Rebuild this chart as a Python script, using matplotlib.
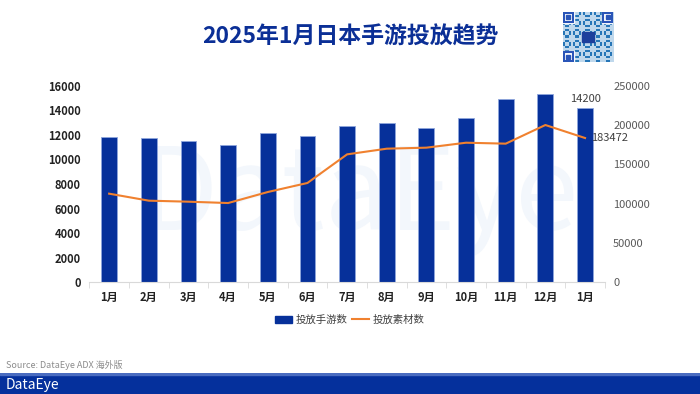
import matplotlib.pyplot as plt
import matplotlib.patches as mpatches
from matplotlib.lines import Line2D
import numpy as np

plt.rcParams['font.family'] = ['Noto Sans CJK SC', 'DejaVu Sans']

# data
months = ["1月", "2月", "3月", "4月", "5月", "6月", "7月", "8月", "9月", "10月", "11月", "12月", "1月"]
games = [11850, 11750, 11480, 11200, 12120, 11880, 12700, 12960, 12590, 13350, 14900, 15300, 14200]
creatives = [112700, 103800, 102500, 100800, 114800, 126300, 162700, 169900, 171200, 177500, 176300, 200000, 183472]

left_ticks = [0, 2000, 4000, 6000, 8000, 10000, 12000, 14000, 16000]
right_ticks = [0, 50000, 100000, 150000, 200000, 250000]

blue = "#06309a"
orange = "#f0812f"

fig = plt.figure(figsize=(7, 3.94), dpi=100)

# title
fig.text(0.5, 0.905, "2025年1月日本手游投放趋势", ha="center", va="center",
         fontsize=16.5, fontweight="bold", color="#0b2f96")

# qr code placeholder (decorative dot pattern)
qr = fig.add_axes([0.804, 0.842, 0.072, 0.128])
n = 25
ii, jj = np.meshgrid(np.arange(n), np.arange(n))
pattern = ((ii * 7 + jj * 11 + ii * jj) % 5 < 2).astype(float)
qr.imshow(pattern, cmap="Blues", vmin=-0.6, vmax=1.6, extent=(0, 1, 0, 1), interpolation="nearest")
qr.set_xlim(0, 1)
qr.set_ylim(0, 1)
qr.axis("off")
for cx, cy in [(0, 0.78), (0.78, 0.78), (0, 0)]:
    qr.add_patch(mpatches.Rectangle((cx, cy), 0.22, 0.22, color="white"))
    qr.add_patch(mpatches.Rectangle((cx + 0.02, cy + 0.02), 0.18, 0.18, fill=False, ec="#2a55b8", lw=1.5))
    qr.add_patch(mpatches.Rectangle((cx + 0.07, cy + 0.07), 0.08, 0.08, color="#2a55b8"))
qr.add_patch(mpatches.Rectangle((0.38, 0.4), 0.24, 0.2, color="#1d3f9c"))

ax = fig.add_axes([0.1276, 0.2835, 0.7365, 0.499])
x = np.arange(len(months))

# watermark
ax.text(6.3, 6900, "DataEye", ha="center", va="center", fontsize=82,
        color="#f3f7fc", zorder=0)

ax.bar(x, games, width=0.4, color=blue, edgecolor="#8fa6dc", linewidth=0.6, zorder=2)
ax.set_xlim(-0.5, len(months) - 0.5)
ax.set_ylim(0, 16000)
ax.set_yticks(left_ticks)
ax.set_yticklabels([str(v) for v in left_ticks], fontsize=8, fontweight="bold", color="#222222")
ax.set_xticks(x)
ax.set_xticklabels(months, fontsize=8, fontweight="bold", color="#222222")
ax.set_xticks(np.arange(-0.5, len(months), 1), minor=True)
ax.tick_params(axis="x", which="major", length=0, pad=6)
ax.tick_params(axis="x", which="minor", length=4, color="#d9d9d9")
ax.tick_params(axis="y", length=0, pad=6)
for s in ["top", "right", "left"]:
    ax.spines[s].set_visible(False)
ax.spines["bottom"].set_color("#d9d9d9")

ax.text(x[-1], games[-1] + 350, str(games[-1]), ha="center", va="bottom", fontsize=8, color="#404040")

ax2 = ax.twinx()
ax2.plot(x, creatives, color=orange, linewidth=1.5, zorder=3)
ax2.set_ylim(0, 250000)
ax2.set_yticks(right_ticks)
ax2.set_yticklabels([str(v) for v in right_ticks], fontsize=8, color="#595959")
ax2.tick_params(axis="y", length=0, pad=6)
for s in ["top", "right", "left", "bottom"]:
    ax2.spines[s].set_visible(False)
ax2.text(x[-1] + 0.15, creatives[-1], str(creatives[-1]), ha="left", va="center", fontsize=8, color="#404040")

# legend
handles = [mpatches.Patch(color=blue), Line2D([0], [0], color=orange, lw=1.5)]
fig.legend(handles, ["投放手游数", "投放素材数"], loc="center", bbox_to_anchor=(0.5, 0.188),
           ncol=2, frameon=False, fontsize=7.5, handlelength=1.6, handletextpad=0.4,
           columnspacing=0.4, labelcolor="#404040")

# source
fig.text(0.008, 0.074, "Source: DataEye ADX 海外版", fontsize=6.5, color="#8c8c8c", va="center")

# footer band
band = fig.add_axes([0, 0, 1, 0.053])
band.axis("off")
band.set_xlim(0, 1)
band.set_ylim(0, 1)
band.add_patch(mpatches.Rectangle((0, 0), 1, 1, color="#05309c"))
band.add_patch(mpatches.Rectangle((0, 0.93), 1, 0.07, color="#4a6cc0"))
band.text(0.008, 0.42, "DataEye", color="white", fontsize=10, va="center", ha="left")

fig.savefig("out.png", dpi=100)
